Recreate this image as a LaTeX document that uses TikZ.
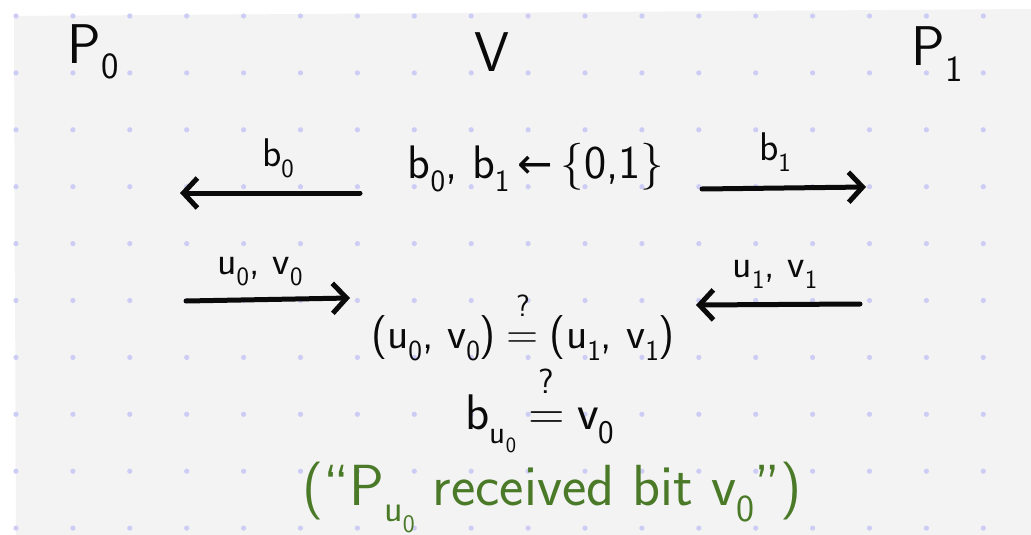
\documentclass[tikz,border=0pt]{standalone}
\usepackage{graphicx}
\usepackage{fontspec}
\newfontfamily\symf{DejaVu Sans}
\usetikzlibrary{arrows.meta}
\newcommand\sbs[1]{\raisebox{-.28em}{\scalebox{.66}{#1}}}
\newcommand\qeq{\kern.08em\ooalign{=\cr\hidewidth\raisebox{.72em}{\scalebox{.7}{?}}\hidewidth\cr}\kern.08em}
\newcommand\larr{{\symf\scalebox{.9}{←}}}
\definecolor{panel}{HTML}{F3F3F3}
\definecolor{dotc}{HTML}{CCCCF5}
\definecolor{ink}{HTML}{0A0A0A}
\definecolor{note}{HTML}{4A7A28}
\tikzset{
  big/.style={font=\sffamily\fontsize{56}{64}\selectfont, text=ink, inner sep=0pt},
  lbl/.style={font=\sffamily\fontsize{40}{46}\selectfont, text=ink, inner sep=0pt},
  formula/.style={font=\sffamily\fontsize{44}{52}\selectfont, text=ink, inner sep=0pt},
  remark/.style={font=\sffamily\fontsize{58}{66}\selectfont, text=note, inner sep=0pt},
  msg/.style={draw=ink, line width=5pt, line cap=round, line join=round,
    -{Straight Barb[length=14pt,width=30pt,line width=5pt]}},
}
\begin{document}
\begin{tikzpicture}[x=1pt,y=-1pt]
\useasboundingbox (0,0) rectangle (1031,535);
\fill[white] (0,0) rectangle (1031,535);
\fill[panel] (14,16) -- (1031,9) -- (1031,535) -- (16,535) -- cycle;
\foreach \i in {0,...,18}{
  \foreach \j in {0,...,9}{
    \fill[dotc] ({16+56.9*\i},{16+56.9*\j}) circle (2.6);
  }
}
% parties
\node[big] (p0) at (93,52) {P\sbs{0}};
\node[big] (v) at (492,52) {V};
\node[big] (p1) at (937,54) {P\sbs{1}};
% first round
\node[formula, font=\sffamily\fontsize{47}{54}\selectfont] (choose) at (536,168) {b\sbs{0}, b\sbs{1}\,\larr\,\{0,1\}};
\coordinate (a1s) at (360,193);
\coordinate (a1e) at (180,193);
\draw[msg] (a1s) -- (a1e);
\node[lbl] (lb0) at (278,158) {b\sbs{0}};
\coordinate (a2s) at (702,189);
\coordinate (a2e) at (866,187);
\draw[msg] (a2s) -- (a2e);
\node[lbl] (lb1) at (775,152) {b\sbs{1}};
% second round
\coordinate (a3s) at (186,301);
\coordinate (a3e) at (350,298);
\draw[msg] (a3s) -- (a3e);
\node[lbl] (luv0) at (260,272) {u\sbs{0},\,\,v\sbs{0}};
\coordinate (a4s) at (860,304);
\coordinate (a4e) at (696,305);
\draw[msg] (a4s) -- (a4e);
\node[lbl] (luv1) at (775,274) {u\sbs{1}, v\sbs{1}};
% checks
\node[formula] (eq1) at (523,338) {(u\sbs{0}, v\sbs{0})\,\qeq\,(u\sbs{1}, v\sbs{1})};
\node[formula, font=\sffamily\fontsize{50}{58}\selectfont] (eq2) at (540,424) {b\sbs{u\sbs{0}}\,\qeq\,v\sbs{0}};
\node[remark] (rem) at (552,497) {(``P\sbs{u\sbs{0}} received bit v\sbs{0}'')};
\end{tikzpicture}
\end{document}
